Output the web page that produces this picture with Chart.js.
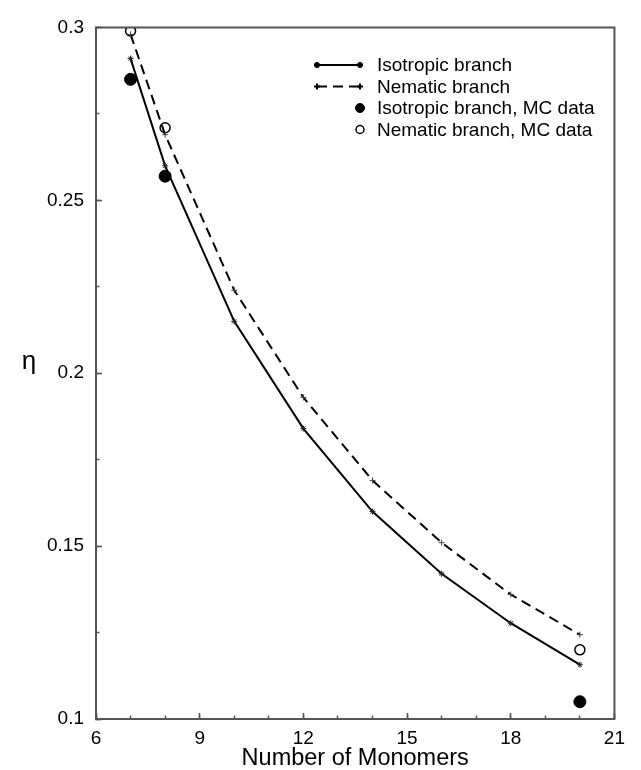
<!DOCTYPE html>
<html>
<head>
<meta charset="utf-8">
<script src="https://cdn.jsdelivr.net/npm/chart.js@4.4.1/dist/chart.umd.min.js"></script>
<style>
  html, body { margin: 0; padding: 0; background: #fff; }
  #wrap { width: 641px; height: 770px; position: relative; }
</style>
</head>
<body>
<div id="wrap"><canvas id="c"></canvas></div>
<script>
// Packing fraction at the isotropic-nematic transition vs. chain length
const monomers = [7, 8, 10, 12, 14, 16, 18, 20];
const isotropicBranch = [0.291, 0.260, 0.215, 0.184, 0.160, 0.142, 0.1277, 0.1157];
const nematicBranch   = [0.298, 0.269, 0.224, 0.193, 0.169, 0.151, 0.136, 0.1244];

const mcMonomers  = [7, 8, 20];
const isotropicMC = [0.285, 0.257, 0.105];
const nematicMC   = [0.299, 0.271, 0.120];

const xTickValues = [6, 9, 12, 15, 18, 21];
const yTickValues = [0.1, 0.15, 0.2, 0.25, 0.3];

const seriesLabels = [
  'Isotropic branch',
  'Nematic branch',
  'Isotropic branch, MC data',
  'Nematic branch, MC data'
];

const pts = (xs, ys) => xs.map((x, i) => ({ x, y: ys[i] }));

const FONT = 'Liberation Sans, Arial, Helvetica, sans-serif';
const FRAME = '#555';

// Box around the plotting area, the upright eta label and the inset key
const decorations = {
  id: 'decorations',
  afterDraw(chart) {
    const { ctx, chartArea: a } = chart;
    ctx.save();
    ctx.strokeStyle = FRAME;
    ctx.lineWidth = 2;
    ctx.beginPath();
    ctx.moveTo(a.left, a.bottom);
    ctx.lineTo(a.left, a.top);
    ctx.lineTo(a.right, a.top);
    ctx.lineTo(a.right, a.bottom);
    ctx.stroke();

    ctx.fillStyle = '#000';
    ctx.font = '26px ' + FONT;
    ctx.textAlign = 'center';
    ctx.textBaseline = 'middle';
    ctx.fillText('\u03b7', 29, 362);

    // key
    const x0 = 317, x1 = 360, tx = 377;
    const rows = [65, 86.5, 108, 129.5];
    ctx.font = '19px ' + FONT;
    ctx.textAlign = 'left';
    chart.data.datasets.forEach((ds, i) => {
      const y = rows[i];
      ctx.strokeStyle = ds.borderColor;
      if (ds.showLine) {
        ctx.lineWidth = ds.borderWidth;
        ctx.setLineDash(ds.borderDash || []);
        ctx.beginPath();
        ctx.moveTo(x0, y);
        ctx.lineTo(x1, y);
        ctx.stroke();
        ctx.setLineDash([]);
        [x0, x1].forEach(px => Chart.helpers.drawPoint(ctx, {
          pointStyle: ds.pointStyle, radius: ds.pointRadius, borderWidth: ds.pointBorderWidth, rotation: 0
        }, px, y));
      } else {
        ctx.fillStyle = ds.backgroundColor;
        ctx.lineWidth = ds.borderWidth;
        ctx.beginPath();
        ctx.arc(x1, y, ds.legendRadius, 0, Math.PI * 2);
        ctx.fill();
        ctx.stroke();
      }
      ctx.fillStyle = '#000';
      ctx.fillText(ds.label, tx, y + 1);
    });
    ctx.restore();
  }
};

const fmt = v => String(Number(v.toFixed(3)));

new Chart(document.getElementById('c'), {
  type: 'scatter',
  data: {
    datasets: [
      {
        label: seriesLabels[0],
        data: pts(monomers, isotropicBranch),
        showLine: true,
        borderColor: '#000',
        backgroundColor: '#000',
        borderWidth: 2,
        pointStyle: 'star',
        pointRadius: 3,
        pointBorderWidth: 1,
        pointBorderColor: '#222'
      },
      {
        label: seriesLabels[1],
        data: pts(monomers, nematicBranch),
        showLine: true,
        borderColor: '#000',
        backgroundColor: '#000',
        borderWidth: 2,
        borderDash: [10, 6],
        pointStyle: 'cross',
        pointRadius: 3,
        pointBorderWidth: 1,
        pointBorderColor: '#444'
      },
      {
        label: seriesLabels[2],
        data: pts(mcMonomers, isotropicMC),
        showLine: false,
        borderColor: '#000',
        backgroundColor: '#000',
        borderWidth: 1,
        pointRadius: 6,
        legendRadius: 4.5
      },
      {
        label: seriesLabels[3],
        data: pts(mcMonomers, nematicMC),
        showLine: false,
        borderColor: '#000',
        backgroundColor: '#fff',
        borderWidth: 1.5,
        pointBorderWidth: 1.5,
        pointRadius: 5,
        legendRadius: 4
      }
    ]
  },
  options: {
    responsive: true,
    maintainAspectRatio: false,
    animation: false,
    events: [],
    layout: { padding: { top: 20, right: 10, left: 0, bottom: 0 } },
    plugins: { legend: { display: false }, tooltip: { enabled: false } },
    scales: {
      x: {
        type: 'linear', position: 'bottom', weight: 1,
        min: 6, max: 21,
        afterBuildTicks: s => { s.ticks = xTickValues.map(v => ({ value: v })); },
        afterFit: s => { s.height = 51; },
        border: { display: true, color: FRAME, width: 2 },
        grid: { drawOnChartArea: false, tickLength: -6, color: FRAME, tickWidth: 1.5 },
        ticks: { color: '#000', font: { family: FONT, size: 19, lineHeight: 1 }, padding: 16, maxRotation: 0, callback: v => fmt(v) },
        title: { display: true, text: 'Number of Monomers', color: '#000', font: { family: FONT, size: 23.5, lineHeight: 1 }, padding: 0 }
      },
      xMinor: {
        type: 'linear', position: 'bottom', weight: 0,
        min: 6, max: 21,
        afterFit: s => { s.height = 0; },
        border: { display: false },
        grid: { drawOnChartArea: false, tickLength: -3.5, color: FRAME, tickWidth: 1.5 },
        ticks: { display: false, stepSize: 1 }
      },
      y: {
        type: 'linear', position: 'left', weight: 1,
        min: 0.1, max: 0.3,
        afterBuildTicks: s => { s.ticks = yTickValues.map(v => ({ value: v })); },
        afterFit: s => { s.width = 96; },
        border: { display: true, color: FRAME, width: 2 },
        grid: { drawOnChartArea: false, tickLength: -6, color: FRAME, tickWidth: 1.5 },
        ticks: { color: '#000', font: { family: FONT, size: 19, lineHeight: 1 }, padding: 18, callback: v => fmt(v) }
      },
      yMinor: {
        type: 'linear', position: 'left', weight: 0,
        min: 0.1, max: 0.3,
        afterFit: s => { s.width = 0; },
        border: { display: false },
        grid: { drawOnChartArea: false, tickLength: -3.5, color: FRAME, tickWidth: 1.5 },
        ticks: { display: false, stepSize: 0.025 }
      }
    }
  },
  plugins: [decorations]
});
</script>
</body>
</html>
